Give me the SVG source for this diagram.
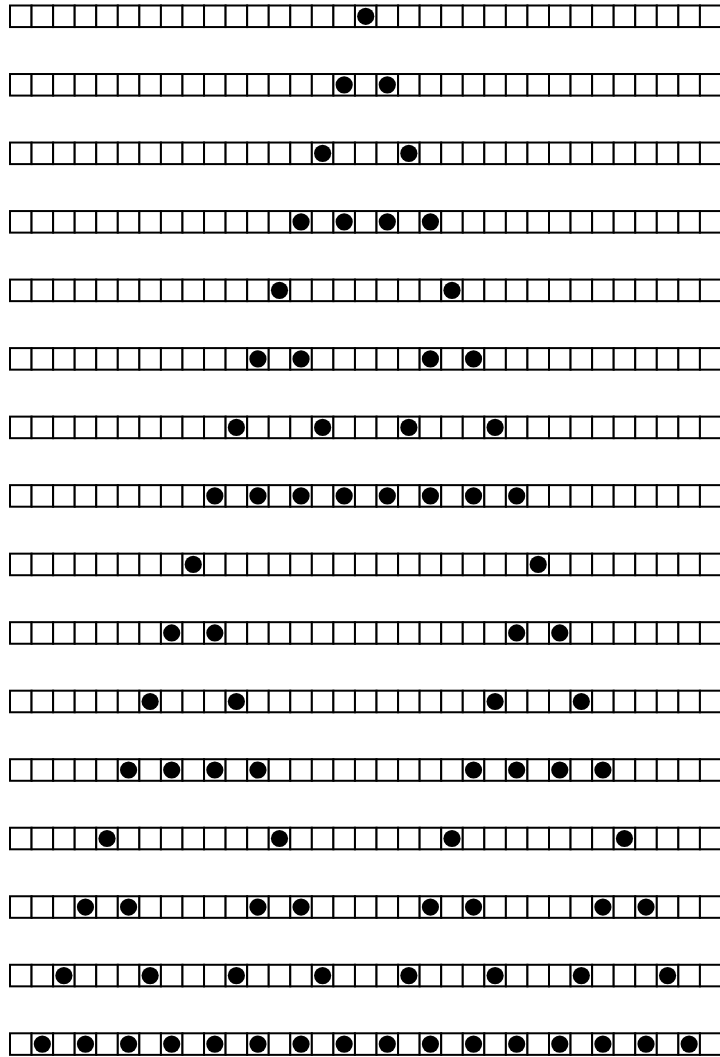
<svg xmlns="http://www.w3.org/2000/svg" xmlns:xlink="http://www.w3.org/1999/xlink" width="720" height="1057" viewBox="0 0 720 1057">
<style>
.c{fill:#fff;stroke:#000;stroke-width:2}
.d{fill:#000}
</style>
<defs>
<g id="cells">
<rect class="c" x="10" y="0" width="21.56" height="21.56"/>
<rect class="c" x="31.56" y="0" width="21.56" height="21.56"/>
<rect class="c" x="53.12" y="0" width="21.56" height="21.56"/>
<rect class="c" x="74.68" y="0" width="21.56" height="21.56"/>
<rect class="c" x="96.24" y="0" width="21.56" height="21.56"/>
<rect class="c" x="117.8" y="0" width="21.56" height="21.56"/>
<rect class="c" x="139.36" y="0" width="21.56" height="21.56"/>
<rect class="c" x="160.92" y="0" width="21.56" height="21.56"/>
<rect class="c" x="182.48" y="0" width="21.56" height="21.56"/>
<rect class="c" x="204.04" y="0" width="21.56" height="21.56"/>
<rect class="c" x="225.6" y="0" width="21.56" height="21.56"/>
<rect class="c" x="247.16" y="0" width="21.56" height="21.56"/>
<rect class="c" x="268.72" y="0" width="21.56" height="21.56"/>
<rect class="c" x="290.28" y="0" width="21.56" height="21.56"/>
<rect class="c" x="311.84" y="0" width="21.56" height="21.56"/>
<rect class="c" x="333.4" y="0" width="21.56" height="21.56"/>
<rect class="c" x="354.96" y="0" width="21.56" height="21.56"/>
<rect class="c" x="376.52" y="0" width="21.56" height="21.56"/>
<rect class="c" x="398.08" y="0" width="21.56" height="21.56"/>
<rect class="c" x="419.64" y="0" width="21.56" height="21.56"/>
<rect class="c" x="441.2" y="0" width="21.56" height="21.56"/>
<rect class="c" x="462.76" y="0" width="21.56" height="21.56"/>
<rect class="c" x="484.32" y="0" width="21.56" height="21.56"/>
<rect class="c" x="505.88" y="0" width="21.56" height="21.56"/>
<rect class="c" x="527.44" y="0" width="21.56" height="21.56"/>
<rect class="c" x="549" y="0" width="21.56" height="21.56"/>
<rect class="c" x="570.56" y="0" width="21.56" height="21.56"/>
<rect class="c" x="592.12" y="0" width="21.56" height="21.56"/>
<rect class="c" x="613.68" y="0" width="21.56" height="21.56"/>
<rect class="c" x="635.24" y="0" width="21.56" height="21.56"/>
<rect class="c" x="656.8" y="0" width="21.56" height="21.56"/>
<rect class="c" x="678.36" y="0" width="21.56" height="21.56"/>
<rect class="c" x="699.92" y="0" width="21.56" height="21.56"/>
</g>
</defs>
<rect width="720" height="1057" fill="#fff"/>
<g id="row1" transform="translate(0,5.5)"><use xlink:href="#cells"/>
<circle class="d" cx="365.74" cy="10.78" r="8.6"/></g>
<g id="row2" transform="translate(0,74.02)"><use xlink:href="#cells"/>
<circle class="d" cx="344.18" cy="10.78" r="8.6"/><circle class="d" cx="387.3" cy="10.78" r="8.6"/></g>
<g id="row3" transform="translate(0,142.54)"><use xlink:href="#cells"/>
<circle class="d" cx="322.62" cy="10.78" r="8.6"/><circle class="d" cx="408.86" cy="10.78" r="8.6"/></g>
<g id="row4" transform="translate(0,211.06)"><use xlink:href="#cells"/>
<circle class="d" cx="301.06" cy="10.78" r="8.6"/><circle class="d" cx="344.18" cy="10.78" r="8.6"/><circle class="d" cx="387.3" cy="10.78" r="8.6"/><circle class="d" cx="430.42" cy="10.78" r="8.6"/></g>
<g id="row5" transform="translate(0,279.58)"><use xlink:href="#cells"/>
<circle class="d" cx="279.5" cy="10.78" r="8.6"/><circle class="d" cx="451.98" cy="10.78" r="8.6"/></g>
<g id="row6" transform="translate(0,348.1)"><use xlink:href="#cells"/>
<circle class="d" cx="257.94" cy="10.78" r="8.6"/><circle class="d" cx="301.06" cy="10.78" r="8.6"/><circle class="d" cx="430.42" cy="10.78" r="8.6"/><circle class="d" cx="473.54" cy="10.78" r="8.6"/></g>
<g id="row7" transform="translate(0,416.62)"><use xlink:href="#cells"/>
<circle class="d" cx="236.38" cy="10.78" r="8.6"/><circle class="d" cx="322.62" cy="10.78" r="8.6"/><circle class="d" cx="408.86" cy="10.78" r="8.6"/><circle class="d" cx="495.1" cy="10.78" r="8.6"/></g>
<g id="row8" transform="translate(0,485.14)"><use xlink:href="#cells"/>
<circle class="d" cx="214.82" cy="10.78" r="8.6"/><circle class="d" cx="257.94" cy="10.78" r="8.6"/><circle class="d" cx="301.06" cy="10.78" r="8.6"/><circle class="d" cx="344.18" cy="10.78" r="8.6"/><circle class="d" cx="387.3" cy="10.78" r="8.6"/><circle class="d" cx="430.42" cy="10.78" r="8.6"/><circle class="d" cx="473.54" cy="10.78" r="8.6"/><circle class="d" cx="516.66" cy="10.78" r="8.6"/></g>
<g id="row9" transform="translate(0,553.66)"><use xlink:href="#cells"/>
<circle class="d" cx="193.26" cy="10.78" r="8.6"/><circle class="d" cx="538.22" cy="10.78" r="8.6"/></g>
<g id="row10" transform="translate(0,622.18)"><use xlink:href="#cells"/>
<circle class="d" cx="171.7" cy="10.78" r="8.6"/><circle class="d" cx="214.82" cy="10.78" r="8.6"/><circle class="d" cx="516.66" cy="10.78" r="8.6"/><circle class="d" cx="559.78" cy="10.78" r="8.6"/></g>
<g id="row11" transform="translate(0,690.7)"><use xlink:href="#cells"/>
<circle class="d" cx="150.14" cy="10.78" r="8.6"/><circle class="d" cx="236.38" cy="10.78" r="8.6"/><circle class="d" cx="495.1" cy="10.78" r="8.6"/><circle class="d" cx="581.34" cy="10.78" r="8.6"/></g>
<g id="row12" transform="translate(0,759.22)"><use xlink:href="#cells"/>
<circle class="d" cx="128.58" cy="10.78" r="8.6"/><circle class="d" cx="171.7" cy="10.78" r="8.6"/><circle class="d" cx="214.82" cy="10.78" r="8.6"/><circle class="d" cx="257.94" cy="10.78" r="8.6"/><circle class="d" cx="473.54" cy="10.78" r="8.6"/><circle class="d" cx="516.66" cy="10.78" r="8.6"/><circle class="d" cx="559.78" cy="10.78" r="8.6"/><circle class="d" cx="602.9" cy="10.78" r="8.6"/></g>
<g id="row13" transform="translate(0,827.74)"><use xlink:href="#cells"/>
<circle class="d" cx="107.02" cy="10.78" r="8.6"/><circle class="d" cx="279.5" cy="10.78" r="8.6"/><circle class="d" cx="451.98" cy="10.78" r="8.6"/><circle class="d" cx="624.46" cy="10.78" r="8.6"/></g>
<g id="row14" transform="translate(0,896.26)"><use xlink:href="#cells"/>
<circle class="d" cx="85.46" cy="10.78" r="8.6"/><circle class="d" cx="128.58" cy="10.78" r="8.6"/><circle class="d" cx="257.94" cy="10.78" r="8.6"/><circle class="d" cx="301.06" cy="10.78" r="8.6"/><circle class="d" cx="430.42" cy="10.78" r="8.6"/><circle class="d" cx="473.54" cy="10.78" r="8.6"/><circle class="d" cx="602.9" cy="10.78" r="8.6"/><circle class="d" cx="646.02" cy="10.78" r="8.6"/></g>
<g id="row15" transform="translate(0,964.78)"><use xlink:href="#cells"/>
<circle class="d" cx="63.9" cy="10.78" r="8.6"/><circle class="d" cx="150.14" cy="10.78" r="8.6"/><circle class="d" cx="236.38" cy="10.78" r="8.6"/><circle class="d" cx="322.62" cy="10.78" r="8.6"/><circle class="d" cx="408.86" cy="10.78" r="8.6"/><circle class="d" cx="495.1" cy="10.78" r="8.6"/><circle class="d" cx="581.34" cy="10.78" r="8.6"/><circle class="d" cx="667.58" cy="10.78" r="8.6"/></g>
<g id="row16" transform="translate(0,1033.3)"><use xlink:href="#cells"/>
<circle class="d" cx="42.34" cy="10.78" r="8.6"/><circle class="d" cx="85.46" cy="10.78" r="8.6"/><circle class="d" cx="128.58" cy="10.78" r="8.6"/><circle class="d" cx="171.7" cy="10.78" r="8.6"/><circle class="d" cx="214.82" cy="10.78" r="8.6"/><circle class="d" cx="257.94" cy="10.78" r="8.6"/><circle class="d" cx="301.06" cy="10.78" r="8.6"/><circle class="d" cx="344.18" cy="10.78" r="8.6"/><circle class="d" cx="387.3" cy="10.78" r="8.6"/><circle class="d" cx="430.42" cy="10.78" r="8.6"/><circle class="d" cx="473.54" cy="10.78" r="8.6"/><circle class="d" cx="516.66" cy="10.78" r="8.6"/><circle class="d" cx="559.78" cy="10.78" r="8.6"/><circle class="d" cx="602.9" cy="10.78" r="8.6"/><circle class="d" cx="646.02" cy="10.78" r="8.6"/><circle class="d" cx="689.14" cy="10.78" r="8.6"/></g>
</svg>
